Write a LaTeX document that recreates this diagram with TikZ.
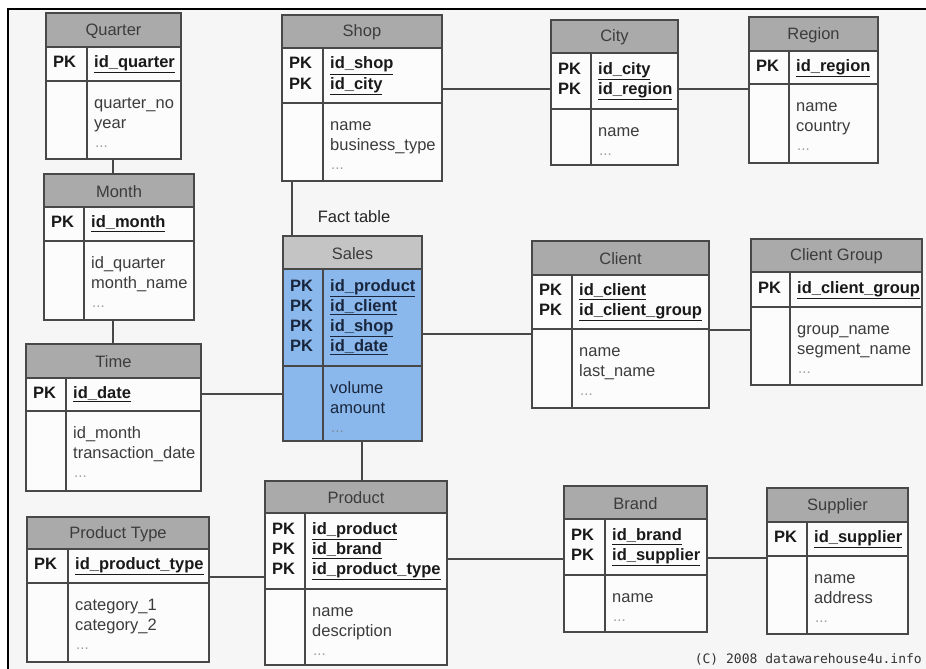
\documentclass[tikz,border=0pt]{standalone}
\usepackage{fontspec}
\setmainfont{Liberation Sans}
\newfontfamily\cpmono{DejaVu Sans Mono}
\usetikzlibrary{fit}
\definecolor{hdrgray}{RGB}{170,170,170}
\definecolor{bodywhite}{RGB}{252,252,252}
\definecolor{bggray}{RGB}{246,246,246}
\definecolor{linegray}{RGB}{72,72,72}
\definecolor{txtgray}{RGB}{60,60,60}
\definecolor{salesblue}{RGB}{138,184,236}
\definecolor{saleshdr}{RGB}{196,196,196}
\definecolor{navytxt}{RGB}{25,38,62}
\tikzset{
  tbody/.style={fill=bodywhite},
  thead/.style={fill=hdrgray},
  tline/.style={draw=linegray, line width=1.3pt},
  conn/.style={draw=linegray, line width=1.2pt},
  ttitle/.style={inner sep=0pt, text=txtgray, font=\fontsize{16.5}{20}\selectfont},
  tpk/.style={inner sep=0pt, text=black!90, font=\bfseries\fontsize{16.5}{20}\selectfont},
  tfield/.style={inner sep=0pt, text=txtgray, font=\fontsize{16.5}{20}\selectfont},
  tdots/.style={inner sep=0pt, text=black!38, font=\fontsize{15}{18}\selectfont},
  salestable/.style={tbody/.style={fill=salesblue}, thead/.style={fill=saleshdr},
    tpk/.append style={text=navytxt}, tfield/.append style={text=navytxt}, tdots/.append style={text=navytxt!55}}
}
\def\ergeom#1,#2,#3,#4,#5,#6,#7\relax{\def\xa{#1}\def\ya{#2}\def\xb{#3}\def\yb{#4}\def\yh{#5}\def\yp{#6}\def\xd{#7}}
% #1 style, #2 name, #3 geometry x1,y1,x2,y2,yhead,ypk,xdiv, #4 title, #5 pk fields, #6 fields
\newcommand\ertable[6][]{%
 \begin{scope}[#1]
 \ergeom#3\relax
 \fill[tbody] (\xa,\ya) rectangle (\xb,\yb);
 \fill[thead] (\xa,\ya) rectangle (\xb,\yh);
 \draw[tline] (\xa,\yh) -- (\xb,\yh) (\xa,\yp) -- (\xb,\yp) (\xd,\yh) -- (\xd,\yb);
 \draw[tline] (\xa,\ya) rectangle (\xb,\yb);
 \coordinate (#2-nw) at (\xa,\ya);
 \coordinate (#2-se) at (\xb,\yb);
 \node[fit=(#2-nw)(#2-se), inner sep=0pt] (#2) {};
 \node[ttitle] (#2-title) at ({(\xa+\xb)/2},{(\ya+\yh)/2+1}) {#4};
 \foreach \k [count=\n] in {#5} {\xdef\npk{\n}}
 \foreach \k [count=\n] in {#5} {
   \pgfmathsetmacro\yy{(\yh+\yp)/2 - 2 + (\n-(\npk+1)/2)*20 + 5.5}
   \node[tpk, anchor=base west] (#2-pk\n) at (\xa+7,\yy) {PK};
   \node[tpk, anchor=base west] (#2-key\n) at (\xd+7,\yy) {\underline{\k}};
 }
 \foreach \k [count=\n] in {#6} {
   \xdef\nfl{\n}
   \node[tfield, anchor=base west] (#2-f\n) at (\xd+7,{\yp+27.5+(\n-1)*20}) {\k};
 }
 \node[tdots, anchor=base west] (#2-dots) at (\xd+8,{\yp+26+\nfl*20}) {...};
 \end{scope}}

\begin{document}
\begin{tikzpicture}[x=1pt,y=-1pt]
\useasboundingbox (0,0) rectangle (926,669);
\fill[white] (0,0) rectangle (926,669);
\fill[bggray] (8,9) rectangle (926,669);
\draw[black, line width=2pt] (8,669) -- (8,9) -- (926,9);

\ertable{quarter}{46,13,181,159,47,81,87}{Quarter}{id\_quarter}{quarter\_no,year}
\ertable{month}{44,174,194,320,207,241,84}{Month}{id\_month}{id\_quarter,month\_name}
\ertable{time}{26,344,201,491,378,411,66}{Time}{id\_date}{id\_month,transaction\_date}
\ertable{shop}{282,15,442,181,48,103,323}{Shop}{id\_shop,id\_city}{name,business\_type}
\ertable{city}{551,20,678,165,53,109,591}{City}{id\_city,id\_region}{name}
\ertable{region}{749,17,878,163,51,84,789}{Region}{id\_region}{name,country}
\ertable[salestable]{sales}{283,236,422,441,269,366,323}{Sales}{id\_product,id\_client,id\_shop,id\_date}{volume,amount}
\ertable{client}{532,241,709,408,275,329,572}{Client}{id\_client,id\_client\_group}{name,last\_name}
\ertable{clientgroup}{751,239,922,385,272,307,790}{Client Group}{id\_client\_group}{group\_name,segment\_name}
\ertable{product}{265,481,447,665,513,589,305}{Product}{id\_product,id\_brand,id\_product\_type}{name,description}
\ertable{producttype}{27,517,209,662,549,583,68}{Product Type}{id\_product\_type}{category\_1,category\_2}
\ertable{brand}{564,486,707,632,519,575,605}{Brand}{id\_brand,id\_supplier}{name}
\ertable{supplier}{767,488,908,634,522,556,807}{Supplier}{id\_supplier}{name,address}

\draw[conn] (quarter.south -| 113,0) -- (month.north -| 113,0);
\draw[conn] (month.south -| 113,0) -- (time.north -| 113,0);
\draw[conn] (time.east |- 0,394) -- (sales.west |- 0,394);
\draw[conn] (shop.south -| 292,0) -- (sales.north -| 292,0);
\draw[conn] (shop.east |- 0,89) -- (city.west |- 0,89);
\draw[conn] (city.east |- 0,89) -- (region.west |- 0,89);
\draw[conn] (sales.east |- 0,334) -- (client.west |- 0,334);
\draw[conn] (client.east |- 0,330) -- (clientgroup.west |- 0,330);
\draw[conn] (sales.south -| 362,0) -- (product.north -| 362,0);
\draw[conn] (producttype.east |- 0,577) -- (product.west |- 0,577);
\draw[conn] (product.east |- 0,559) -- (brand.west |- 0,559);
\draw[conn] (brand.east |- 0,558) -- (supplier.west |- 0,558);

\node[tfield, text=black!85, anchor=center] (facttable) at (354,217) {Fact table};
\node[inner sep=0pt, anchor=base east, text=black!80, font=\cpmono\fontsize{13}{15}\selectfont] (copyright) at (922,663) {(C) 2008 datawarehouse4u.info};
\end{tikzpicture}
\end{document}
